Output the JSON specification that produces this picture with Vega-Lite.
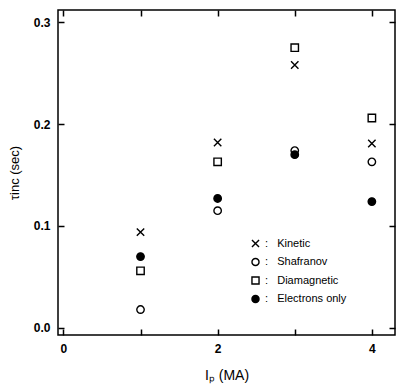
{
  "$schema": "https://vega.github.io/schema/vega-lite/v6.json",
  "width": 337,
  "height": 325,
  "autosize": {"type": "none"},
  "padding": {"left": 58, "top": 10, "right": 3, "bottom": 49},
  "background": "white",
  "config": {
    "view": {"stroke": "black", "strokeWidth": 1.5},
    "font": "Liberation Sans",
    "axis": {
      "grid": false,
      "domain": false,
      "ticks": true,
      "tickColor": "black",
      "tickWidth": 1.5,
      "tickSize": 6,
      "offset": -6,
      "zindex": 1,
      "labelColor": "black",
      "labelFont": "Liberation Sans",
      "labelFontSize": 12,
      "labelFontWeight": "bold",
      "titleFont": "Liberation Sans",
      "titleColor": "black",
      "titleFontWeight": "normal"
    },
    "legend": {
      "orient": "none", "legendX": 192, "legendY": 228, "title": null,
      "padding": 0, "rowPadding": 5.5, "labelFontSize": 11,
      "labelFont": "Liberation Sans", "labelColor": "black",
      "symbolStrokeWidth": 1.4, "symbolSize": 50
    }
  },
  "data": {
    "values": [
      {"ip": 1, "tau": 0.094, "series": "Kinetic"},
      {"ip": 1, "tau": 0.018, "series": "Shafranov"},
      {"ip": 1, "tau": 0.056, "series": "Diamagnetic"},
      {"ip": 1, "tau": 0.070, "series": "Electrons only"},
      {"ip": 2, "tau": 0.182, "series": "Kinetic"},
      {"ip": 2, "tau": 0.115, "series": "Shafranov"},
      {"ip": 2, "tau": 0.163, "series": "Diamagnetic"},
      {"ip": 2, "tau": 0.127, "series": "Electrons only"},
      {"ip": 3, "tau": 0.258, "series": "Kinetic"},
      {"ip": 3, "tau": 0.174, "series": "Shafranov"},
      {"ip": 3, "tau": 0.275, "series": "Diamagnetic"},
      {"ip": 3, "tau": 0.170, "series": "Electrons only"},
      {"ip": 4, "tau": 0.181, "series": "Kinetic"},
      {"ip": 4, "tau": 0.163, "series": "Shafranov"},
      {"ip": 4, "tau": 0.206, "series": "Diamagnetic"},
      {"ip": 4, "tau": 0.124, "series": "Electrons only"}
    ]
  },
  "resolve": {"axis": {"x": "independent", "y": "independent"}},
  "layer": [
    {
      "mark": {"type": "point", "strokeWidth": 1.4, "opacity": 1, "size": 55},
      "encoding": {
        "x": {
          "field": "ip", "type": "quantitative",
          "scale": {"domain": [-0.07, 4.3], "nice": false, "zero": false},
          "axis": {"values": [0, 1, 2, 3, 4], "labelExpr": "datum.value % 2 == 0 ? datum.label : ''", "title": "Iₚ  (MA)", "titleFontSize": 14, "labelPadding": 8, "titlePadding": 14, "labelFlush": false}
        },
        "y": {
          "field": "tau", "type": "quantitative",
          "scale": {"domain": [-0.007, 0.312], "nice": false, "zero": false},
          "axis": {"values": [0, 0.1, 0.2, 0.3], "format": ".1f", "title": "τinc (sec)", "titleFontSize": 13, "labelPadding": 8, "titlePadding": 12}
        },
        "shape": {
          "field": "series", "type": "nominal",
          "scale": {
            "domain": ["Kinetic", "Shafranov", "Diamagnetic", "Electrons only"],
            "range": ["M-1,-1L1,1M-1,1L1,-1", "circle", "square", "circle"]
          },
          "legend": {"labelExpr": "'\u00a0:\u00a0\u00a0\u00a0' + datum.label"}
        },
        "fill": {
          "field": "series", "type": "nominal",
          "scale": {
            "domain": ["Kinetic", "Shafranov", "Diamagnetic", "Electrons only"],
            "range": ["transparent", "transparent", "transparent", "black"]
          },
          "legend": {"labelExpr": "'\u00a0:\u00a0\u00a0\u00a0' + datum.label"}
        },
        "stroke": {
          "field": "series", "type": "nominal",
          "scale": {
            "domain": ["Kinetic", "Shafranov", "Diamagnetic", "Electrons only"],
            "range": ["black", "black", "black", "black"]
          },
          "legend": {"labelExpr": "'\u00a0:\u00a0\u00a0\u00a0' + datum.label"}
        }
      }
    },
    {
      "mark": {"type": "point", "opacity": 0},
      "encoding": {
        "x": {
          "field": "ip", "type": "quantitative",
          "scale": {"domain": [-0.07, 4.3], "nice": false, "zero": false},
          "axis": {"orient": "top", "values": [0, 1, 2, 3, 4], "labels": false, "title": null}
        },
        "y": {
          "field": "tau", "type": "quantitative",
          "scale": {"domain": [-0.007, 0.312], "nice": false, "zero": false},
          "axis": {"orient": "right", "values": [0, 0.1, 0.2, 0.3], "labels": false, "title": null}
        }
      }
    }
  ]
}
